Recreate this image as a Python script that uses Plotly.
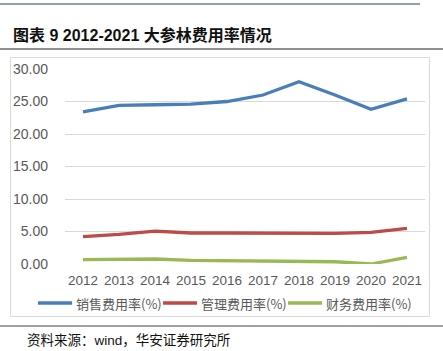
import plotly.graph_objects as go

years = ["2012", "2013", "2014", "2015", "2016", "2017", "2018", "2019", "2020", "2021"]
sales_rate = [23.4, 24.4, 24.5, 24.6, 25.0, 26.0, 28.05, 26.0, 23.8, 25.4]
admin_rate = [4.2, 4.55, 5.05, 4.77, 4.77, 4.72, 4.72, 4.70, 4.87, 5.49]
fin_rate = [0.67, 0.67, 0.77, 0.56, 0.50, 0.46, 0.46, 0.35, 0.0, 1.03]
names = ["销售费用率(%)", "管理费用率(%)", "财务费用率(%)"]
colors = ["#4A7EBB", "#BE4B48", "#98B954"]
yticks = [0, 5, 10, 15, 20, 25, 30]

W, H = 443, 351
L, R, T, B = 65, 425, 69, 264

def px(x):
    return (x - L) / (R - L)

def py(y):
    return (B - y) / (B - T)

fig = go.Figure()
for vals, nm, c in zip([sales_rate, admin_rate, fin_rate], names, colors):
    fig.add_trace(go.Scatter(x=years, y=vals, mode="lines", name=nm,
                             line=dict(color=c, width=3.3), cliponaxis=False))

font = "Liberation Sans, Noto Sans CJK SC, sans-serif"
fig.update_layout(
    width=W, height=H,
    margin=dict(l=L, r=W - R, t=T, b=H - B),
    paper_bgcolor="white", plot_bgcolor="white",
    font=dict(family=font, color="#595959", size=13),
    showlegend=False,
    xaxis=dict(type="category", range=[-0.5, 9.5], showgrid=False, showline=False,
               ticks="", ticklabelstandoff=6, tickfont=dict(size=13.5, color="#595959")),
    yaxis=dict(range=[0, 30], tickvals=yticks, tickformat=".2f", showgrid=True,
               gridcolor="#D9D9D9", gridwidth=1, zeroline=False, showline=False,
               ticks="", ticklabelstandoff=16, tickfont=dict(size=14, color="#595959")),
)

shapes = [
    dict(type="line", xref="paper", yref="paper", x0=px(0), x1=px(420), y0=py(4), y1=py(4),
         line=dict(color="#1F3F7A", width=1.2)),
    dict(type="line", xref="paper", yref="paper", x0=px(0), x1=px(443), y0=py(49), y1=py(49),
         line=dict(color="#222222", width=1.2)),
    dict(type="rect", xref="paper", yref="paper", x0=px(10.5), x1=px(429.5), y0=py(57.5), y1=py(316.5),
         line=dict(color="#D9D9D9", width=1), layer="below"),
    dict(type="line", xref="paper", yref="paper", x0=px(0), x1=px(443), y0=py(326), y1=py(326),
         line=dict(color="#444444", width=1.2)),
]
# manual legend
leg_x = [38, 163, 288]
leg_y = 303
for lx, nm, c in zip(leg_x, names, colors):
    shapes.append(dict(type="line", xref="paper", yref="paper", x0=px(lx), x1=px(lx + 34),
                       y0=py(leg_y), y1=py(leg_y), line=dict(color=c, width=3.3)))
    fig.add_annotation(xref="paper", yref="paper", x=px(lx + 36), y=py(leg_y), xanchor="left",
                       yanchor="middle", text=nm, showarrow=False,
                       font=dict(family="Noto Sans CJK SC, sans-serif", size=13, color="#595959"))
fig.update_layout(shapes=shapes)

fig.add_annotation(xref="paper", yref="paper", x=px(11), y=py(35), xanchor="left", yanchor="middle",
                   text="<b>图表 9 2012-2021 大参林费用率情况</b>", showarrow=False,
                   font=dict(family="Liberation Sans, Noto Sans CJK SC, sans-serif", size=16, color="#111111"))
fig.add_annotation(xref="paper", yref="paper", x=px(25), y=py(340), xanchor="left", yanchor="middle",
                   text="资料来源：wind，华安证券研究所", showarrow=False,
                   font=dict(family="Liberation Sans, Noto Sans CJK SC, sans-serif", size=13.5, color="#111111"))

fig.write_html("out.html")
